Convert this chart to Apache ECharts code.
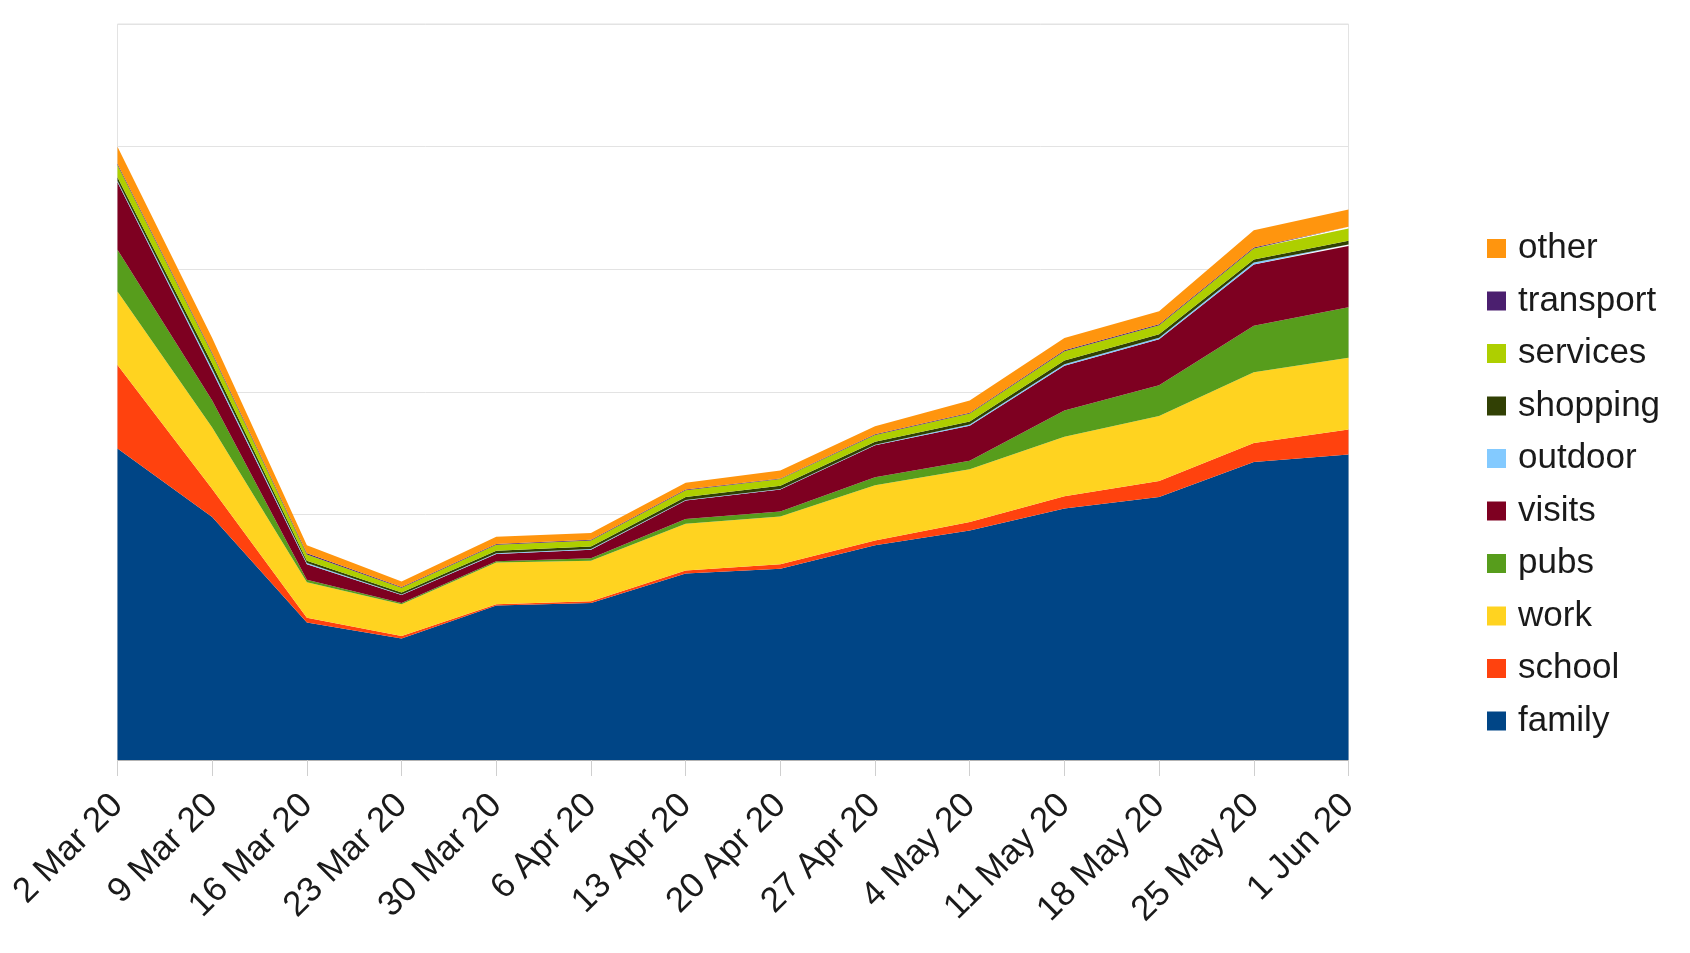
<!DOCTYPE html>
<html>
<head>
<meta charset="utf-8">
<title>Weekly contacts by setting</title>
<script src="https://cdn.jsdelivr.net/npm/echarts@6/dist/echarts.min.js"></script>
<style>
  html, body { margin: 0; padding: 0; background: #ffffff; }
  #chart { width: 1690px; height: 953px; }
</style>
</head>
<body>
<div id="chart"></div>
<script>
// Week-start dates on the horizontal axis
const weeks = ['2 Mar 20', '9 Mar 20', '16 Mar 20', '23 Mar 20', '30 Mar 20', '6 Apr 20', '13 Apr 20',
  '20 Apr 20', '27 Apr 20', '4 May 20', '11 May 20', '18 May 20', '25 May 20', '1 Jun 20'];

// Contributions per setting, stacked bottom to top
const family    = [2.54, 1.98, 1.12, 0.99, 1.26, 1.28, 1.52, 1.56, 1.75, 1.87, 2.05, 2.145, 2.43, 2.49];
const school    = [0.68, 0.23, 0.04, 0.02, 0.01, 0.015, 0.025, 0.035, 0.04, 0.07, 0.10, 0.13, 0.155, 0.205];
const work      = [0.60, 0.50, 0.29, 0.26, 0.34, 0.33, 0.38, 0.39, 0.45, 0.43, 0.485, 0.53, 0.575, 0.585];
const pubs      = [0.34, 0.22, 0.02, 0.01, 0.01, 0.02, 0.04, 0.04, 0.065, 0.07, 0.215, 0.25, 0.38, 0.41];
const visits    = [0.55, 0.24, 0.125, 0.065, 0.06, 0.07, 0.15, 0.18, 0.26, 0.285, 0.365, 0.375, 0.50, 0.50];
const outdoor   = [0.01, 0.02, 0.01, 0.005, 0.005, 0.005, 0.005, 0.005, 0.005, 0.01, 0.012, 0.012, 0.015, 0.012];
const shopping  = [0.03, 0.04, 0.02, 0.015, 0.02, 0.02, 0.025, 0.025, 0.025, 0.025, 0.03, 0.028, 0.025, 0.03];
const services  = [0.10, 0.08, 0.05, 0.04, 0.05, 0.05, 0.055, 0.055, 0.055, 0.065, 0.075, 0.075, 0.09, 0.10];
const transport = [0.01, 0.01, 0.01, 0.005, 0.005, 0.005, 0.005, 0.005, 0.005, 0.005, 0.008, 0.008, 0.008, 0.015];
const other     = [0.14, 0.12, 0.065, 0.045, 0.06, 0.055, 0.055, 0.065, 0.065, 0.10, 0.10, 0.105, 0.14, 0.14];

const layers = [
  { name: 'family',    data: family,    color: '#004586' },
  { name: 'school',    data: school,    color: '#ff420e' },
  { name: 'work',      data: work,      color: '#ffd320' },
  { name: 'pubs',      data: pubs,      color: '#579d1c' },
  { name: 'visits',    data: visits,    color: '#7e0021' },
  { name: 'outdoor',   data: outdoor,   color: '#83caff' },
  { name: 'shopping',  data: shopping,  color: '#314004' },
  { name: 'services',  data: services,  color: '#aecf00' },
  { name: 'transport', data: transport, color: '#4b1f6f' },
  { name: 'other',     data: other,     color: '#ff950e' }
];

const FONT = '"Liberation Sans", Arial, sans-serif';

const chart = echarts.init(document.getElementById('chart'), null, { renderer: 'canvas' });

chart.setOption({
  animation: false,
  backgroundColor: '#ffffff',
  grid: {
    left: 117.5,
    right: 341.5,
    top: 24,
    bottom: 193,
    show: true,
    borderColor: '#e3e3e3',
    borderWidth: 1
  },
  legend: {
    orient: 'vertical',
    left: 1482,
    top: 226,
    icon: 'rect',
    itemWidth: 19,
    itemHeight: 19,
    itemGap: 17.5,
    data: layers.map(l => l.name).reverse(),
    textStyle: {
      fontFamily: FONT,
      fontSize: 35,
      lineHeight: 35,
      color: '#1a1a1a',
      padding: [0, 0, 0, 7]
    }
  },
  xAxis: {
    type: 'category',
    data: weeks,
    boundaryGap: false,
    axisLine: { lineStyle: { color: '#b3b3b3', width: 1 } },
    axisTick: { show: true, length: 16, lineStyle: { color: '#cfcfcf' } },
    axisLabel: {
      rotate: 45,
      margin: 40,
      interval: 0,
      fontFamily: FONT,
      fontSize: 35,
      color: '#1a1a1a'
    },
    splitLine: { show: false }
  },
  yAxis: {
    type: 'value',
    min: 0,
    max: 6,
    interval: 1,
    axisLine: { show: false },
    axisTick: { show: false },
    axisLabel: { show: false },
    splitLine: { show: true, lineStyle: { color: '#e3e3e3', width: 1 } }
  },
  series: layers.map(l => ({
    name: l.name,
    type: 'line',
    stack: 'total',
    data: l.data,
    symbol: 'none',
    smooth: false,
    lineStyle: { width: 0 },
    areaStyle: { color: l.color, opacity: 1 },
    itemStyle: { color: l.color },
    emphasis: { disabled: true }
  }))
});
</script>
</body>
</html>
